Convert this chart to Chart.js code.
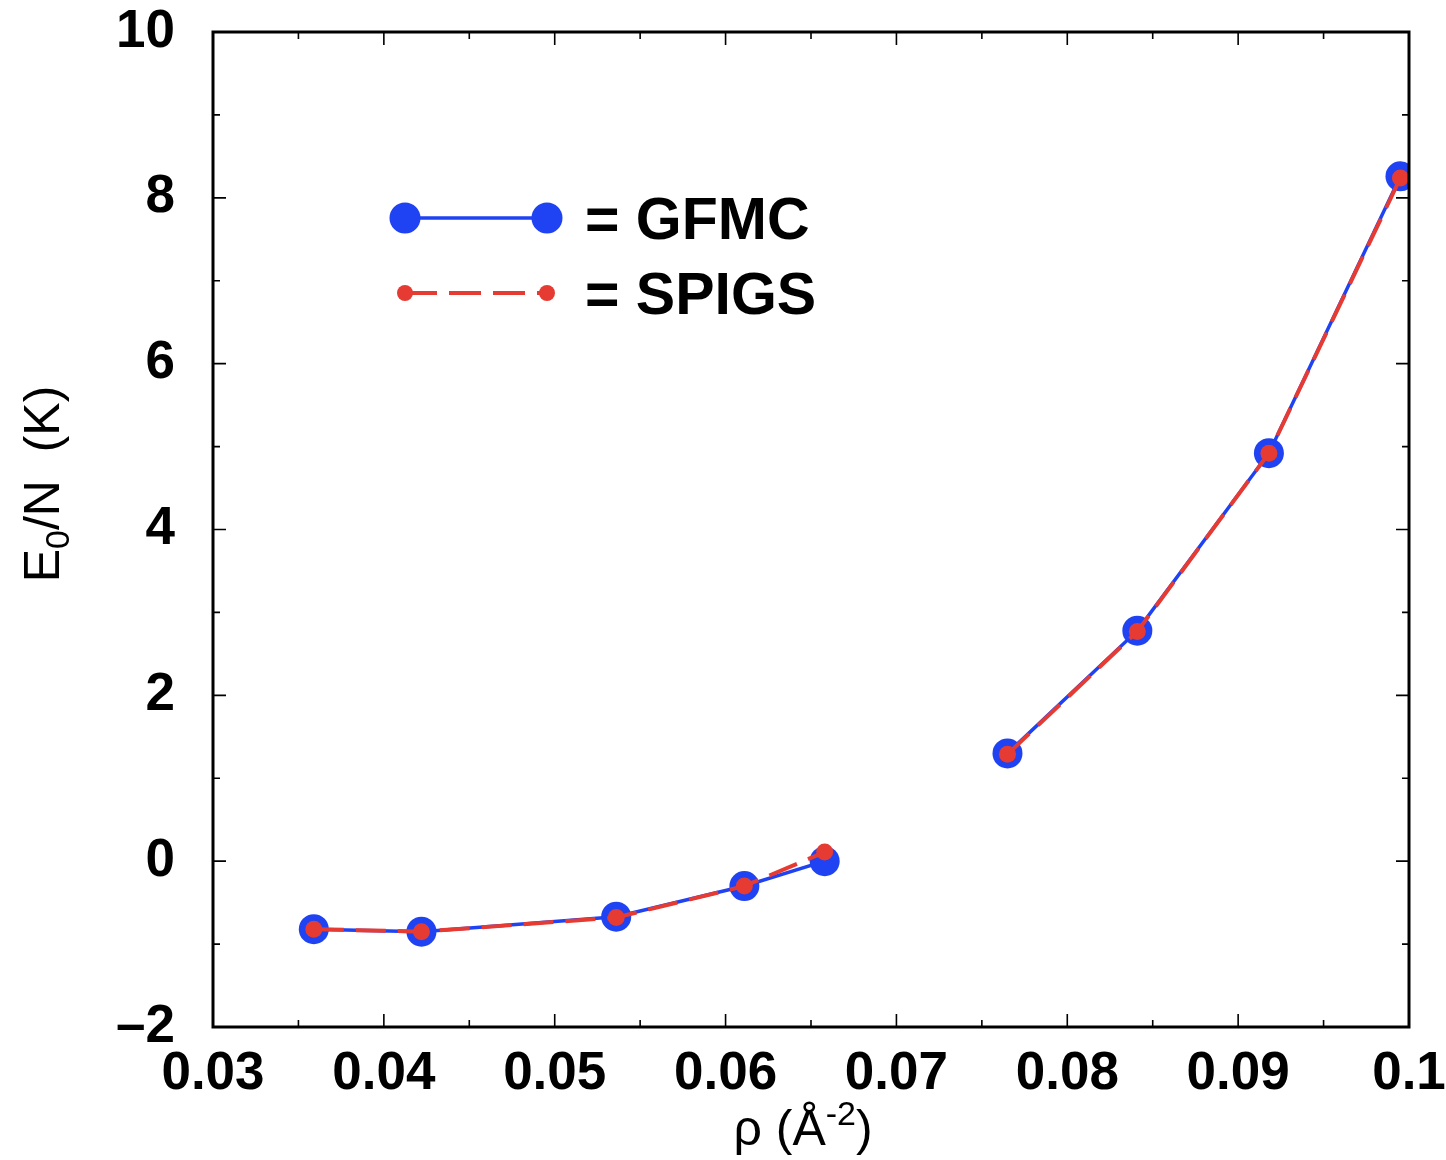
<!DOCTYPE html>
<html>
<head>
<meta charset="utf-8">
<script src="https://cdn.jsdelivr.net/npm/chart.js@4"></script>
<style>
  html, body { margin: 0; padding: 0; background: #fff; }
  #wrap { width: 1446px; height: 1160px; }
</style>
</head>
<body>
<div id="wrap"><canvas id="energyChart" width="1446" height="1160"></canvas></div>
<script>
// densities (A^-2) and energies per particle (K), two branches each
const rhoLow = [0.0359, 0.0422, 0.0536, 0.0611, 0.0658];
const rhoHigh = [0.0765, 0.0841, 0.0918, 0.0995];
const gfmcLow = [-0.82, -0.85, -0.67, -0.30, 0.00];
const gfmcHigh = [1.30, 2.78, 4.92, 8.26];
const spigsLow = [-0.82, -0.85, -0.68, -0.30, 0.11];
const spigsHigh = [1.29, 2.77, 4.92, 8.24];

const xMajor = [0.03, 0.04, 0.05, 0.06, 0.07, 0.08, 0.09, 0.1];
const xMinor = [0.035, 0.045, 0.055, 0.065, 0.075, 0.085, 0.095];
const yMajor = [-2, 0, 2, 4, 6, 8, 10];
const yMinor = [-1, 1, 3, 5, 7, 9];

const BLUE = '#1f42f2';
const RED = '#e63b33';
const FONT = '"Liberation Sans", Arial, Helvetica, sans-serif';

const pts = (xs, ys) => xs.map((x, i) => ({ x: x, y: ys[i] }));

const blueStyle = {
    borderColor: BLUE, backgroundColor: BLUE, borderWidth: 3.5,
    pointRadius: 15, pointBorderWidth: 0, pointHoverRadius: 15, order: 2
};
const redStyle = {
    borderColor: RED, backgroundColor: RED, borderWidth: 4, borderDash: [30, 12],
    pointRadius: 8.5, pointBorderWidth: 0, pointHoverRadius: 8.5, order: 1
};

// frame, inward ticks on all sides, legend and axis titles
const decor = {
    id: 'decor',
    afterDatasetsDraw(chart) {
        const c = chart.ctx;
        const a = chart.chartArea;
        const xs = chart.scales.x, ys = chart.scales.y;
        c.save();
        c.strokeStyle = '#000';
        c.lineWidth = 1.6;
        c.beginPath();
        const tickX = (v, len) => {
            const px = xs.getPixelForValue(v);
            c.moveTo(px, a.bottom); c.lineTo(px, a.bottom - len);
            c.moveTo(px, a.top); c.lineTo(px, a.top + len);
        };
        const tickY = (v, len) => {
            const py = ys.getPixelForValue(v);
            c.moveTo(a.left, py); c.lineTo(a.left + len, py);
            c.moveTo(a.right, py); c.lineTo(a.right - len, py);
        };
        xMajor.forEach(v => tickX(v, 13));
        xMinor.forEach(v => tickX(v, 7));
        yMajor.forEach(v => tickY(v, 13));
        yMinor.forEach(v => tickY(v, 7));
        c.stroke();
        c.lineWidth = 3;
        c.strokeRect(a.left, a.top, a.right - a.left, a.bottom - a.top);

        // legend
        c.lineWidth = 3.5;
        c.strokeStyle = BLUE;
        c.beginPath(); c.moveTo(405, 218); c.lineTo(547, 218); c.stroke();
        c.fillStyle = BLUE;
        [405, 547].forEach(x => { c.beginPath(); c.arc(x, 218, 15.5, 0, Math.PI * 2); c.fill(); });
        c.lineWidth = 4;
        c.strokeStyle = RED;
        c.setLineDash([32, 12]);
        c.beginPath(); c.moveTo(405, 293); c.lineTo(547, 293); c.stroke();
        c.setLineDash([]);
        c.fillStyle = RED;
        [405, 547].forEach(x => { c.beginPath(); c.arc(x, 293, 8, 0, Math.PI * 2); c.fill(); });
        c.fillStyle = '#000';
        c.font = 'bold 59px ' + FONT;
        c.textAlign = 'left';
        c.textBaseline = 'alphabetic';
        c.fillText('= GFMC', 585, 239);
        c.fillText('= SPIGS', 585, 314);

        // x title: rho (A^-2)
        const big = '50px ' + FONT, small = '34px ' + FONT;
        const xParts = [['ρ (Å', big, 0], ['-2', small, -20], [')', big, 0]];
        let w = 0;
        xParts.forEach(p => { c.font = p[1]; w += c.measureText(p[0]).width; });
        let x0 = 803 - w / 2;
        xParts.forEach(p => { c.font = p[1]; c.fillText(p[0], x0, 1145 + p[2]); x0 += c.measureText(p[0]).width; });

        // y title: E0/N (K), rotated
        c.translate(59, 484);
        c.rotate(-Math.PI / 2);
        const yParts = [['E', big, 0], ['0', small, 10], ['/N  (K)', big, 0]];
        w = 0;
        yParts.forEach(p => { c.font = p[1]; w += c.measureText(p[0]).width; });
        x0 = -w / 2;
        yParts.forEach(p => { c.font = p[1]; c.fillText(p[0], x0, p[2]); x0 += c.measureText(p[0]).width; });
        c.restore();
    }
};

new Chart(document.getElementById('energyChart'), {
    type: 'line',
    data: {
        datasets: [
            Object.assign({ label: 'GFMC', data: pts(rhoLow, gfmcLow) }, blueStyle),
            Object.assign({ label: 'GFMC', data: pts(rhoHigh, gfmcHigh) }, blueStyle),
            Object.assign({ label: 'SPIGS', data: pts(rhoLow, spigsLow) }, redStyle),
            Object.assign({ label: 'SPIGS', data: pts(rhoHigh, spigsHigh) }, redStyle)
        ]
    },
    options: {
        responsive: false,
        animation: false,
        layout: { padding: { top: 32, right: 37, left: 0, bottom: 0 } },
        plugins: {
            legend: { display: false },
            tooltip: { enabled: false }
        },
        scales: {
            x: {
                type: 'linear',
                min: 0.03,
                max: 0.1,
                afterFit: s => { s.height = 133; s.paddingLeft = 0; s.paddingRight = 0; },
                afterBuildTicks: s => { s.ticks = xMajor.map(v => ({ value: v })); },
                grid: { display: false },
                border: { display: false },
                ticks: {
                    color: '#000',
                    padding: 8,
                    maxRotation: 0,
                    autoSkip: false,
                    font: { family: FONT, size: 53, weight: 'bold' },
                    callback: v => String(Math.round(v * 100) / 100)
                }
            },
            y: {
                min: -2,
                max: 10,
                afterFit: s => { s.width = 213; s.paddingTop = 0; s.paddingBottom = 0; },
                afterBuildTicks: s => { s.ticks = yMajor.map(v => ({ value: v })); },
                grid: { display: false },
                border: { display: false },
                ticks: {
                    color: '#000',
                    padding: 30,
                    font: { family: FONT, size: 53, weight: 'bold' },
                    callback: v => (v < 0 ? '\u2013' + Math.abs(v) : String(v))
                }
            }
        }
    },
    plugins: [decor]
});
</script>
</body>
</html>
